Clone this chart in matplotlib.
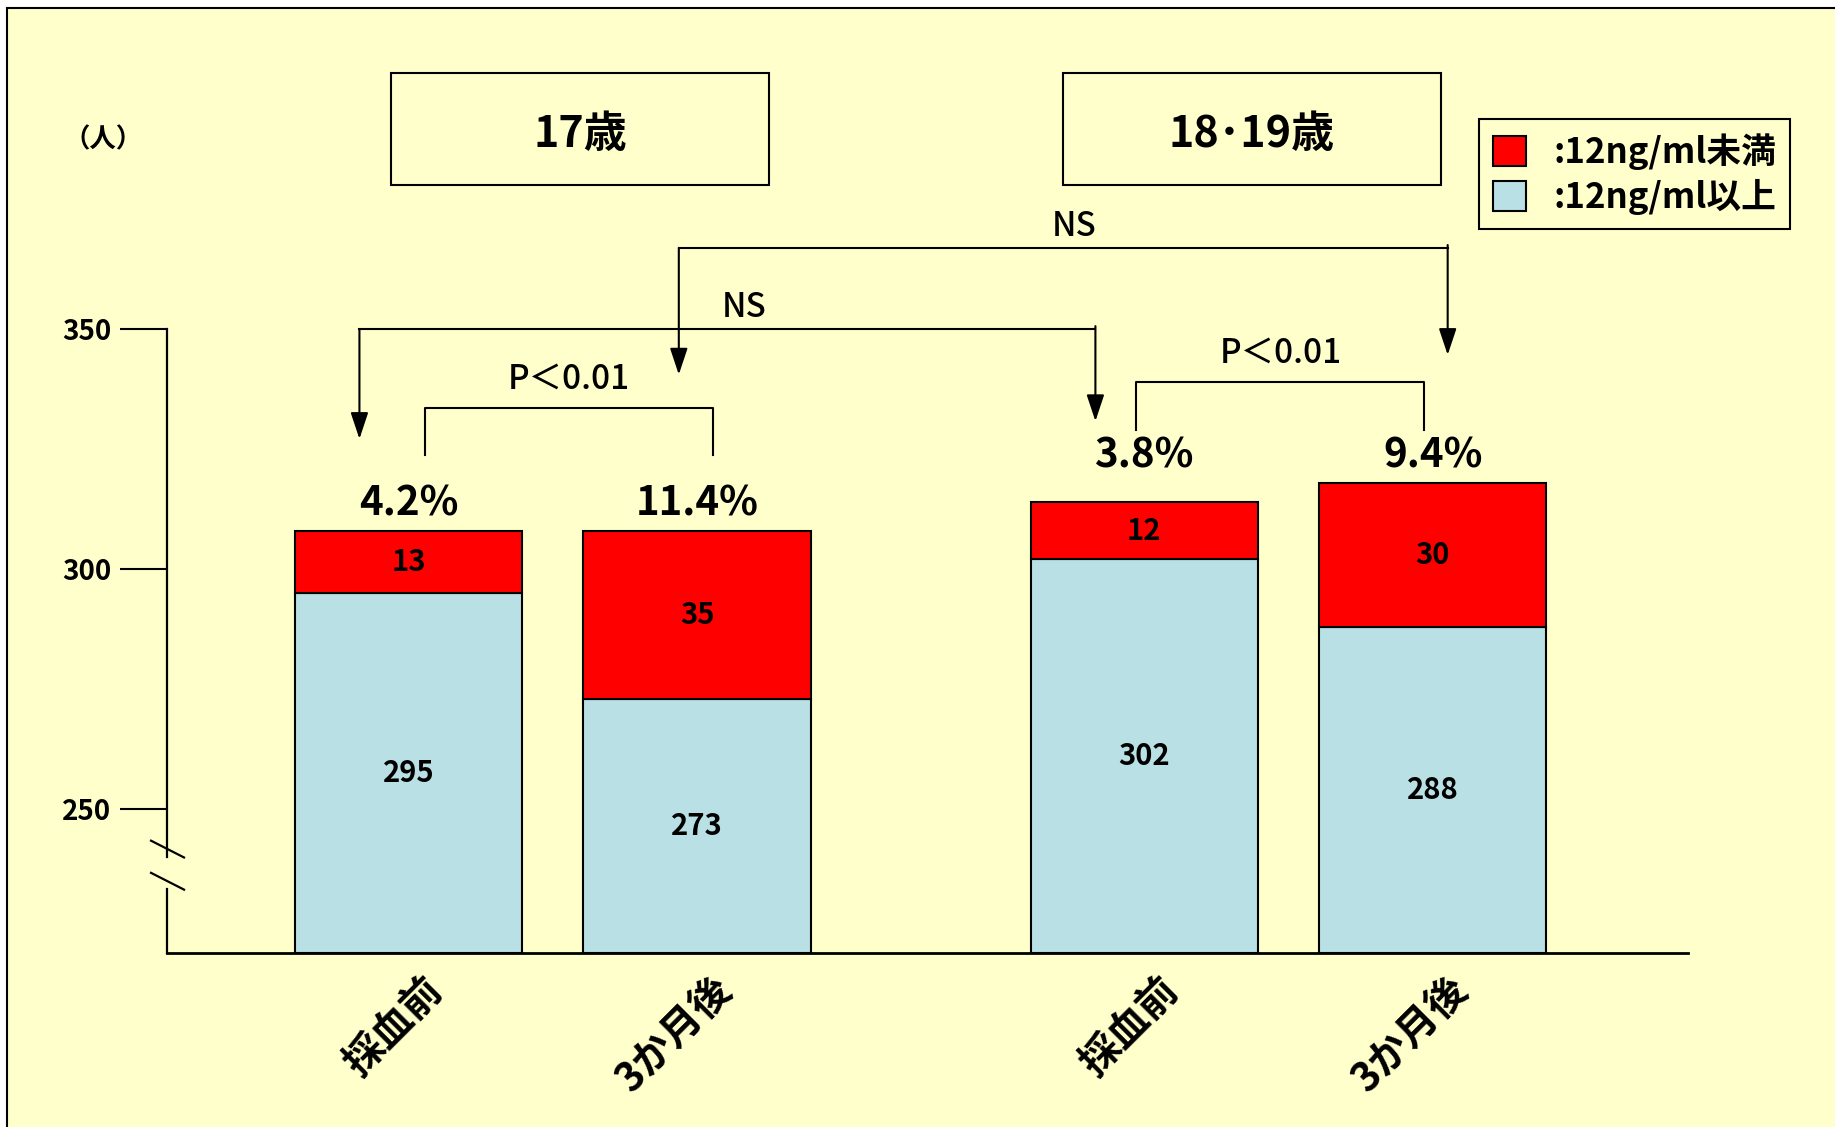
import matplotlib.pyplot as plt
import matplotlib.transforms as mtransforms
from matplotlib.patches import Rectangle
from matplotlib.lines import Line2D

plt.rcParams['font.family'] = ['Noto Sans CJK JP', 'DejaVu Sans']

# 人数（17歳 採血前, 3か月後 / 18・19歳 採血前, 3か月後）
groups = ['17歳', '18･19歳']
xlabels = ['採血前', '3か月後', '採血前', '3か月後']
over12 = [295, 273, 302, 288]    # 12ng/ml以上
under12 = [13, 35, 12, 30]       # 12ng/ml未満
legend_labels = [':12ng/ml未満', ':12ng/ml以上']
yticks = [250, 300, 350]

RED = '#FF0000'
BLUE = '#B9E0E4'
BG = '#FFFFCC'

pos = [0, 1, 2.55, 3.55]
base = 220

fig = plt.figure(figsize=(18.35, 11.27), dpi=100)
fig.patch.set_facecolor('white')
fig.add_artist(Rectangle((7 / 1835, -0.02), 1.05, (1127 - 8) / 1127 + 0.02,
                         transform=fig.transFigure, facecolor=BG,
                         edgecolor='black', lw=1.5, zorder=-10))

ax = fig.add_axes([167 / 1835, 174 / 1127, 1521 / 1835, 840 / 1127])
ax.patch.set_alpha(0)

blue_h = [v - base for v in over12]
b_blue = ax.bar(pos, blue_h, bottom=base, width=0.787, color=BLUE,
                edgecolor='black', lw=1.5)
b_red = ax.bar(pos, under12, bottom=over12, width=0.787, color=RED,
               edgecolor='black', lw=1.5)

ax.set_xlim(-0.837, 4.435)
ax.set_ylim(base, 395)

# 軸（縦軸は波線で省略）
for s in ['top', 'right', 'left']:
    ax.spines[s].set_visible(False)
ax.spines['bottom'].set_linewidth(2)
yt = ax.get_yaxis_transform()
ax.add_line(Line2D([0, 0], [base, 233.3], transform=yt, color='black', lw=1.6, clip_on=False))
ax.add_line(Line2D([0, 0], [240, 350], transform=yt, color='black', lw=1.6, clip_on=False))
for y0 in (240.0, 233.3):
    ax.add_line(Line2D([-0.0105, 0.0112], [y0 + 3.4, y0 - 0.1], transform=yt,
                       color='black', lw=1.6, clip_on=False))

ax.set_yticks(yticks)
ax.tick_params(axis='y', length=34, width=1.5, pad=6, labelsize=20)
for t in ax.get_yticklabels():
    t.set_fontweight('bold')
ax.set_xticks(pos)
ax.set_xticklabels(xlabels, rotation=45, ha='right', va='top',
                   rotation_mode='anchor', fontsize=29, fontweight='bold')
ax.tick_params(axis='x', length=0, pad=12)
shift = mtransforms.ScaledTranslation(14 / 100, 0, fig.dpi_scale_trans)
for t in ax.get_xticklabels():
    t.set_transform(t.get_transform() + shift)

# 棒の数値
for x, b, r in zip(pos, over12, under12):
    ax.text(x, (base + b) / 2, str(b), ha='center', va='center',
            fontsize=21, fontweight='bold')
    ax.text(x, b + r / 2, str(r), ha='center', va='center',
            fontsize=21, fontweight='bold')

# 12ng/ml未満の割合
for g in range(2):
    idx = [2 * g, 2 * g + 1]
    top = max(over12[i] + under12[i] for i in idx)
    for i in idx:
        pct = under12[i] / (over12[i] + under12[i]) * 100
        ax.text(pos[i], top + 5.5, f'{pct:.1f}%', ha='center', va='center',
                fontsize=29, fontweight='bold')

lk = dict(color='black', lw=1.5)
ak = dict(arrowstyle='-|>,head_length=0.9,head_width=0.3', color='black',
          lw=1.5, mutation_scale=18, shrinkA=0, shrinkB=0)

# 群内比較 P<0.01
for (x1, x2, ylo, yh) in [(0.057, 1.055, 323.7, 333.5), (2.523, 3.521, 329.0, 339.0)]:
    ax.plot([x1, x1, x2, x2], [ylo, yh, yh, ylo], **lk)
    ax.text((x1 + x2) / 2, yh + 6, 'P＜0.01', ha='center', va='center',
            fontsize=24, fontweight='medium')

# 群間比較 NS
for (x1, x2, yh, t1, t2, tx) in [(-0.170, 2.381, 350.0, 327.1, 330.8, 1.164),
                                  (0.937, 3.602, 366.9, 340.5, 344.6, 2.308)]:
    ax.plot([x1, x2], [yh, yh], **lk)
    ax.annotate('', xy=(x1, t1), xytext=(x1, yh), arrowprops=ak)
    ax.annotate('', xy=(x2, t2), xytext=(x2, yh + 0.6), arrowprops=ak)
    ax.text(tx, yh + 4.5, 'NS', ha='center', va='center', fontsize=24,
            fontweight='medium')

# 年齢区分の見出し
for g, x0 in zip(groups, [391, 1063]):
    fig.add_artist(Rectangle((x0 / 1835, 942 / 1127), 378 / 1835, 112 / 1127,
                             transform=fig.transFigure, facecolor='none',
                             edgecolor='black', lw=1.5))
    fig.text((x0 + 189) / 1835, 1 - 134 / 1127, g, ha='center', va='center',
             fontsize=31, fontweight='bold')

fig.text(103 / 1835, 1 - 140 / 1127, '（人）', ha='center', va='center',
         fontsize=19, fontweight='bold')

leg = fig.legend([b_red, b_blue], legend_labels, loc='upper left',
                 bbox_to_anchor=(1479 / 1835, 1 - 119 / 1127), borderaxespad=0,
                 fancybox=False, edgecolor='black', facecolor=BG, framealpha=1,
                 prop={'size': 25, 'weight': 'bold'}, handlelength=0.95,
                 handleheight=0.95, handletextpad=0.8, labelspacing=0.28,
                 borderpad=0.4)
leg.get_frame().set_linewidth(1.5)

fig.savefig('out.png', dpi=100)
